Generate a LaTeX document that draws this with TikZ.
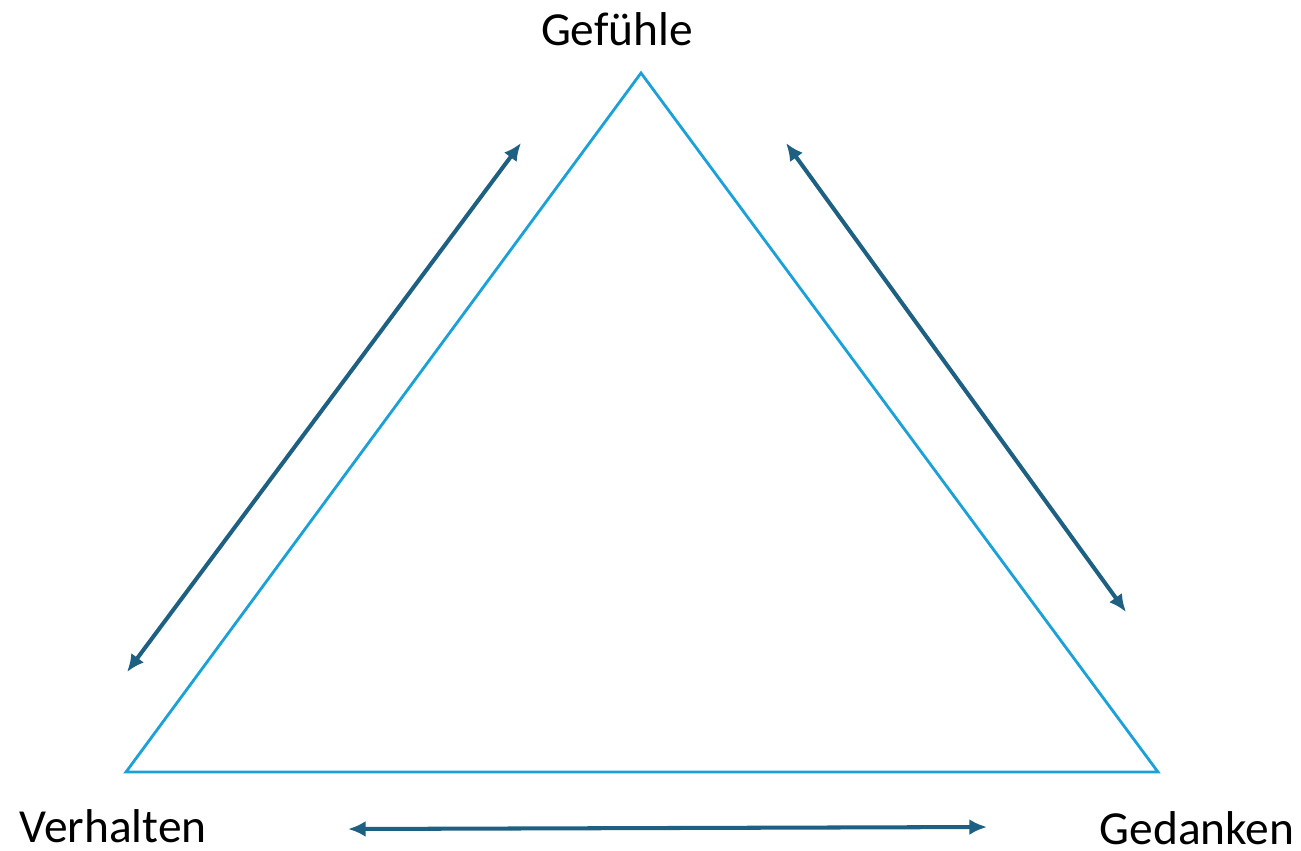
\documentclass[tikz,border=0pt]{standalone}
\usepackage{fontspec}
\setmainfont{Carlito}
\usepackage{tikz}
\usetikzlibrary{arrows.meta}

\definecolor{trianglecol}{RGB}{27,160,215}
\definecolor{arrowcol}{RGB}{30,96,130}

\begin{document}
\begin{tikzpicture}[
  x=0.02cm, y=-0.02cm,
  label/.style={font=\fontsize{27}{32}\selectfont, inner sep=0pt},
  side/.style={draw=trianglecol, line width=1.6pt, line join=miter},
  arr/.style={{Latex[length=10pt,width=9pt]}-{Latex[length=10pt,width=9pt]}, draw=arrowcol, line width=2.3pt}
]
\useasboundingbox (0,0) rectangle (1301,850);
% triangle corners
\coordinate (top) at (641,73);
\coordinate (left) at (126,772);
\coordinate (right) at (1158,772);
\draw[side] (top) -- (right) -- (left) -- cycle;
% labels
\node[label] (gef) at (617,29) {Gefühle};
\node[label] (ver) at (113,826) {Verhalten};
\node[label] (ged) at (1197,828) {Gedanken};
% arrow ends
\coordinate (a1) at (127,672);
\coordinate (a2) at (521,143);
\coordinate (b1) at (786,143);
\coordinate (b2) at (1126,612);
\coordinate (c1) at (348,829);
\coordinate (c2) at (987,827);
\draw[arr] (a1) -- (a2);
\draw[arr] (b1) -- (b2);
\draw[arr] (c1) -- (c2);
\end{tikzpicture}
\end{document}
